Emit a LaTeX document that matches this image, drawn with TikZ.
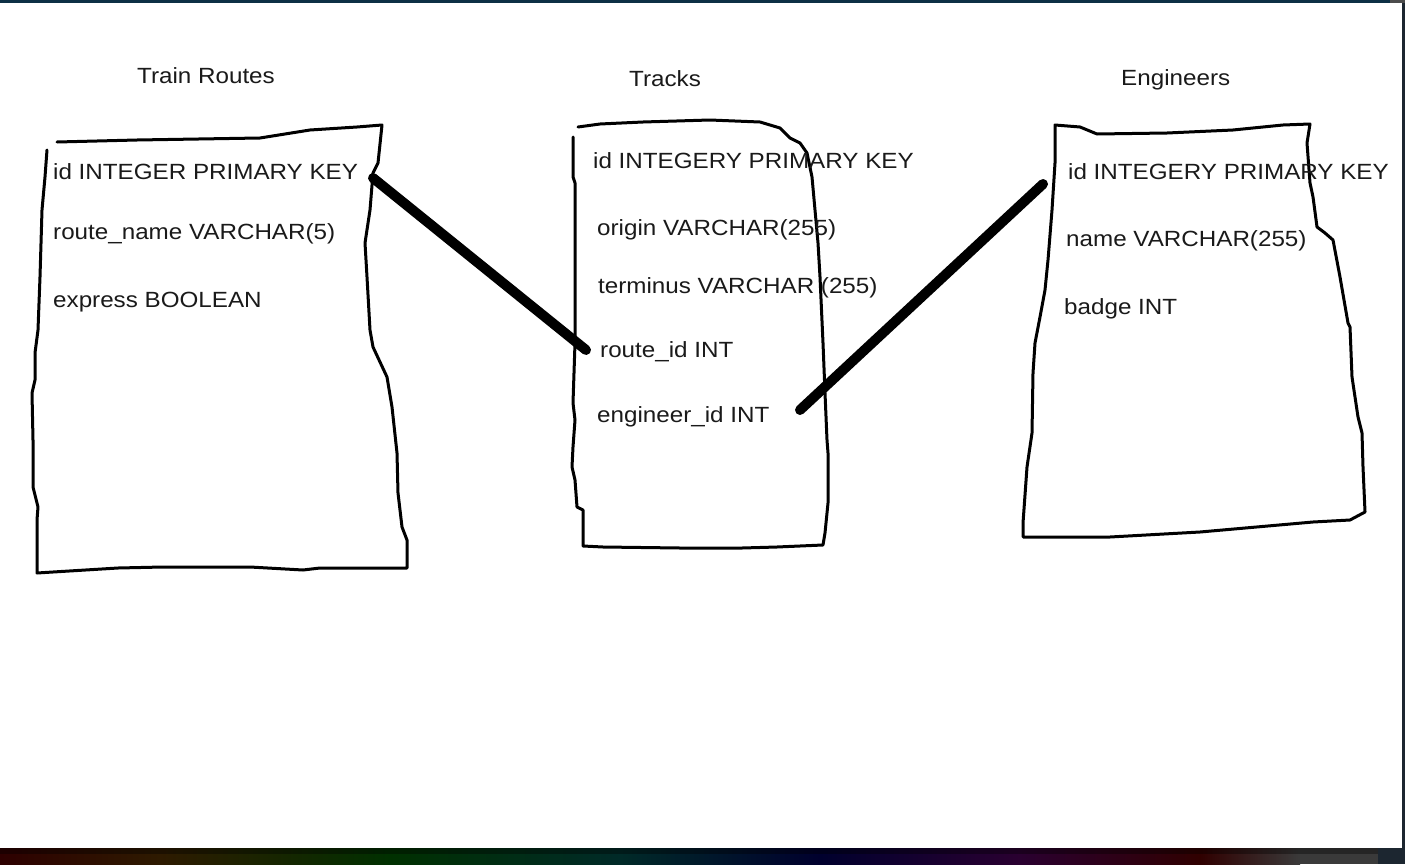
\documentclass[tikz,border=0pt]{standalone}
\usepackage{fontspec}
\setmainfont{Liberation Sans}[FakeStretch=1.1]
\usetikzlibrary{shadings}
\definecolor{framebluedark}{HTML}{0D3045}
\definecolor{bandA}{HTML}{2E0000}
\definecolor{bandB}{HTML}{2E1A00}
\definecolor{bandC}{HTML}{003000}
\definecolor{bandD}{HTML}{002A28}
\definecolor{bandE}{HTML}{00002E}
\definecolor{bandF}{HTML}{2A0030}
\definecolor{bandG}{HTML}{300000}
\definecolor{bandH}{HTML}{3A3A3A}
\definecolor{bandI}{HTML}{1C2630}
\definecolor{textgray}{HTML}{1A1A1A}
\tikzset{
  x=1bp, y=-1bp,
  lbl/.style={inner sep=0pt, anchor=base west, text=textgray, font=\fontsize{22bp}{26bp}\selectfont},
  boxline/.style={line width=3bp, line join=round, line cap=round, black},
  link/.style={line width=10bp, line cap=round, black},
}
\begin{document}
\begin{tikzpicture}
\useasboundingbox (0,0) rectangle (1405,864);
\fill[white] (0,0) rectangle (1405,864);
% window frame
\fill[framebluedark] (0,0) rectangle (1390,2.5);
\fill[gray!60!black] (1390,0) rectangle (1405,3);
\fill[bandI] (1402,3) rectangle (1405,848);
% bottom band
\shade[left color=bandA, right color=bandB] (0,848) rectangle (160,864);
\shade[left color=bandB, right color=bandC] (160,848) rectangle (390,864);
\shade[left color=bandC, right color=bandD] (390,848) rectangle (620,864);
\shade[left color=bandD, right color=bandE] (620,848) rectangle (820,864);
\shade[left color=bandE, right color=bandF] (820,848) rectangle (1020,864);
\shade[left color=bandF, right color=bandG] (1020,848) rectangle (1200,864);
\shade[left color=bandG, right color=bandH] (1200,848) rectangle (1300,864);
\fill[bandH] (1300,848) rectangle (1378,864);
\fill[bandI] (1378,848) rectangle (1405,864);
\fill[black, opacity=0.35] (0,848) rectangle (1378,854);

% titles
\node[lbl] (t1) at (137,83) {Train Routes};
\node[lbl] (t2) at (629,86) {Tracks};
\node[lbl] (t3) at (1121,85) {Engineers};

% Train Routes box
\draw[boxline] (57,142) -- (137,140) -- (260,138) -- (310,130) -- (357,127) -- (382,125)
  -- (378,163) -- (373,173) -- (370,210) -- (365,243) -- (367,277) -- (370,330) -- (373,347)
  -- (387,377) -- (392,407) -- (397,453) -- (398,493) -- (402,527) -- (407,540) -- (407,568)
  -- (320,568) -- (303,570) -- (250,567) -- (163,567) -- (118,568) -- (53,572) -- (37,573)
  -- (37,520) -- (38,507) -- (33,487) -- (33,440) -- (32,393) -- (35,380) -- (35,353)
  -- (38,330) -- (40,277) -- (42,210) -- (45,177) -- (47,150);
\node[lbl] (r1) at (53,179) {id INTEGER PRIMARY KEY};
\node[lbl] (r2) at (53,239) {route\_name VARCHAR(5)};
\node[lbl] (r3) at (53,307) {express BOOLEAN};

% Tracks box
\draw[boxline] (578,127) -- (600,124) -- (643,122) -- (710,120) -- (760,122) -- (780,128)
  -- (790,138) -- (800,143) -- (807,153) -- (812,177) -- (815,210) -- (818,243) -- (820,277)
  -- (823,343) -- (825,393) -- (827,440) -- (828,453) -- (828,503) -- (825,533) -- (823,545)
  -- (777,547) -- (742,548) -- (680,548) -- (603,547) -- (583,546)
  -- (583,510) -- (577,507) -- (575,480) -- (572,467) -- (573,447) -- (575,420)
  -- (573,403) -- (575,343) -- (575,183) -- (573,177) -- (573,137);
\node[lbl] (k1) at (593,168) {id INTEGERY PRIMARY KEY};
\node[lbl] (k2) at (597,235) {origin VARCHAR(255)};
\node[lbl] (k3) at (598,293) {terminus VARCHAR (255)};
\node[lbl] (k4) at (600,357) {route\_id INT};
\node[lbl] (k5) at (597,422) {engineer\_id INT};

% Engineers box
\draw[boxline] (1055,125) -- (1080,127) -- (1097,134) -- (1167,133) -- (1233,130) -- (1283,125)
  -- (1310,124) -- (1307,143) -- (1310,183) -- (1313,197) -- (1317,227) -- (1325,233)
  -- (1333,240) -- (1340,277) -- (1348,323) -- (1350,327) -- (1352,377) -- (1358,417)
  -- (1362,433) -- (1363,467) -- (1365,512) -- (1350,520) -- (1313,522) -- (1200,532)
  -- (1110,537) -- (1023,537) -- (1023,523) -- (1027,467) -- (1032,433) -- (1033,373)
  -- (1035,343) -- (1040,317) -- (1045,290) -- (1048,260) -- (1052,210) -- (1055,163) -- cycle;
\node[lbl] (e1) at (1068,179) {id INTEGERY PRIMARY KEY};
\node[lbl] (e2) at (1066,246) {name VARCHAR(255)};
\node[lbl] (e3) at (1064,314) {badge INT};

% connectors
\coordinate (routeFrom) at (373,178);
\coordinate (routeTo) at (586,350);
\coordinate (engFrom) at (1043,184);
\coordinate (engTo) at (800,410);
\draw[link] (routeFrom) -- (routeTo);
\draw[link] (engFrom) -- (engTo);
\end{tikzpicture}
\end{document}
